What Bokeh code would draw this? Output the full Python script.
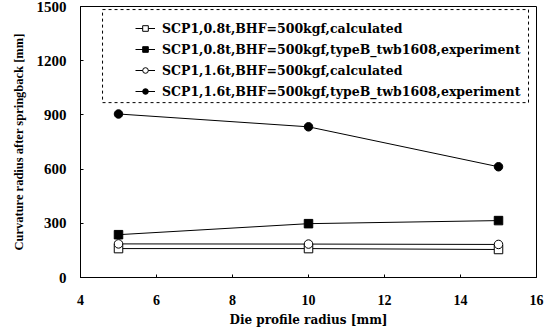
from bokeh.plotting import figure
from bokeh.models import Legend, LegendItem, BoxAnnotation, FixedTicker
from bokeh.embed import file_html
from bokeh.resources import INLINE

die_radius = [5, 10, 15]
s1_label = "SCP1,0.8t,BHF=500kgf,calculated"
s1 = [160, 160, 155]
s2_label = "SCP1,0.8t,BHF=500kgf,typeB_twb1608,experiment"
s2 = [237, 298, 315]
s3_label = "SCP1,1.6t,BHF=500kgf,calculated"
s3 = [186, 185, 183]
s4_label = "SCP1,1.6t,BHF=500kgf,typeB_twb1608,experiment"
s4 = [905, 834, 613]
x_ticks = [4, 6, 8, 10, 12, 14, 16]
y_ticks = [0, 300, 600, 900, 1200, 1500]

SERIF = "Liberation Serif"
WIDE = "DejaVu Serif"

p = figure(width=555, height=331, output_backend="svg", toolbar_location=None,
           x_range=(4, 16), y_range=(0, 1500),
           min_border_left=80, min_border_right=19, min_border_top=6, min_border_bottom=54)
p.xgrid.visible = False
p.ygrid.visible = False
p.outline_line_color = "black"
p.outline_line_width = 1
p.background_fill_color = "white"

items = []
specs = [
    (s1, s1_label, "square", "white"),
    (s2, s2_label, "square", "black"),
    (s3, s3_label, "circle", "white"),
    (s4, s4_label, "circle", "black"),
]
for ys, lab, mk, fill in specs:
    l = p.line(die_radius, ys, line_color="black", line_width=1)
    s = p.scatter(die_radius, ys, marker=mk, size=8.5, line_color="black", fill_color=fill, line_width=1)
    items.append(LegendItem(label=lab, renderers=[l, s]))

legend = Legend(items=items, location=(51, 172), padding=4, spacing=1,
                glyph_width=20, glyph_height=14, label_height=20, label_standoff=7,
                label_text_font=WIDE, label_text_font_style="bold", label_text_font_size="12.5px",
                label_text_color="black",
                border_line_alpha=0, background_fill_alpha=0)
p.add_layout(legend, "center")

box = BoxAnnotation(left=4.58, right=15.79, bottom=968, top=1483,
                    fill_alpha=0, line_color="black", line_alpha=1, line_dash="3 3", line_width=1)
p.add_layout(box)

xa = p.xaxis[0]
ya = p.yaxis[0]
for ax in (xa, ya):
    ax.major_label_text_font = SERIF
    ax.major_label_text_font_style = "bold"
    ax.axis_label_text_font_style = "bold"
    ax.minor_tick_line_color = None
    ax.major_tick_in = 3
    ax.major_tick_out = 0
    ax.axis_line_color = "black"
    ax.major_label_text_color = "black"
    ax.axis_label_text_color = "black"

xa.ticker = FixedTicker(ticks=x_ticks)
ya.ticker = FixedTicker(ticks=y_ticks)
xa.major_label_text_font_size = "14px"
ya.major_label_text_font_size = "15px"
xa.axis_label = "Die profile radius [mm]"
ya.axis_label = "Curvature radius after springback [mm]"
xa.axis_label_text_font = WIDE
xa.axis_label_text_font_size = "12px"
ya.axis_label_text_font = SERIF
ya.axis_label_text_font_size = "12.5px"
xa.major_label_standoff = 17
ya.major_label_standoff = 14
xa.axis_label_standoff = 5
ya.axis_label_standoff = 8

open("out.html", "w").write(file_html(p, INLINE))
